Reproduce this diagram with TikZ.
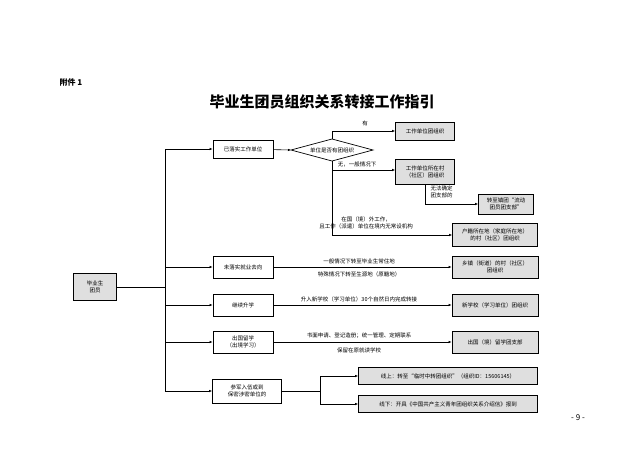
\documentclass[tikz,border=0pt]{standalone}
\usepackage{fontspec}
\setmainfont{Noto Sans CJK SC}
\usetikzlibrary{shapes.geometric,arrows.meta}
\begin{document}
\begin{tikzpicture}[x=1pt,y=-1pt,
  wbox/.style={draw,line width=0.7pt,fill=white,align=center,font=\fontsize{5.5}{7}\selectfont,inner sep=1pt},
  gbox/.style={draw,line width=0.7pt,fill=gray!25,align=center,font=\fontsize{5.5}{7}\selectfont,inner sep=1pt},
  lbl/.style={font=\fontsize{5.5}{7}\selectfont,align=center,inner sep=0.5pt},
  arr/.style={-{Latex[length=3pt,width=2.5pt]},line width=0.6pt},
  ln/.style={line width=0.6pt}]
\useasboundingbox (0,0) rectangle (640,453);
\fill[white] (0,0) rectangle (640,453);
\node[font=\fontsize{8}{9}\selectfont\bfseries,anchor=west] (att) at (56,82) {附件 1};
\node[font=\fontsize{15}{17}\selectfont\bfseries] (title) at (322,102) {毕业生团员组织关系转接工作指引};
\node[gbox,minimum width=43pt,minimum height=27pt] (root) at (95,287) {毕业生\\团员};
\coordinate (tt) at (165,149);
\coordinate (tb) at (165,391);
\coordinate (tm) at (165,287);
\draw[ln] (root) -- (tm);
\draw[ln] (tt) -- (tb);
% work
\node[wbox,minimum width=60pt,minimum height=18pt] (w) at (243,149) {已落实工作单位};
\coordinate (dW) at (291,150);
\coordinate (dN) at (332,139);
\coordinate (dE) at (373,150);
\coordinate (dS) at (332,161);
\draw[line width=0.7pt] (dW) -- (dN) -- (dE) -- (dS) -- cycle;
\node[lbl] (d) at (332,150) {单位是否有团组织};
\draw[arr] (tt) -- (w);
\draw[arr] (w) -- (dW);
\node[gbox,minimum width=59pt,minimum height=18pt] (g1) at (425,131) {工作单位团组织};
\node[gbox,minimum width=59pt,minimum height=25pt] (g2) at (425,172) {工作单位所在村\\（社区）团组织};
\node[gbox,minimum width=55pt,minimum height=20pt] (g3) at (506,204) {转至镇团“流动\\团员团支部”};
\node[gbox,minimum width=85pt,minimum height=23pt] (g4) at (495,235) {户籍所在地（家庭所在地）\\的村（社区）团组织};
\draw[arr] (dN) |- (g1);
\node[lbl] (l1) at (365,123) {有};
\coordinate (db) at (332,235);
\draw[ln] (dS) -- (db);
\draw[arr] (332,170) -- (g2.west |- 0,170);
\node[lbl] (l2) at (357,164) {无，一般情况下};
\draw[arr] (g2.south) |- (g3);
\node[lbl,anchor=west] (l3) at (430,192) {无法确定\\团支部的};
\draw[arr] (db) -- (g4.west |- db);
\node[lbl] (l4) at (366,223) {在国（境）外工作，\\且工作（派遣）单位在境内无常设机构};
% row 2
\node[wbox,minimum width=60pt,minimum height=22pt] (u) at (243,267) {未落实就业去向};
\node[gbox,minimum width=86pt,minimum height=22pt] (u2) at (495,267) {乡镇（街道）的村（社区）\\团组织};
\draw[arr] (165,267) -- (u);
\draw[arr] (u) -- (u2);
\node[lbl] (l5) at (359,261) {一般情况下转至毕业生常住地};
\node[lbl] (l6) at (359,274) {特殊情况下转至生源地（原籍地）};
% row 3
\node[wbox,minimum width=60pt,minimum height=22pt] (s) at (243,305) {继续升学};
\node[gbox,minimum width=86pt,minimum height=22pt] (s2) at (495,305) {新学校（学习单位）团组织};
\draw[arr] (165,305) -- (s);
\draw[arr] (s) -- (s2);
\node[lbl] (l7) at (359,299) {升入新学校（学习单位）30个自然日内完成转接};
% row 4
\node[wbox,minimum width=60pt,minimum height=22pt] (a) at (243,342) {出国留学\\（出境学习）};
\node[gbox,minimum width=86pt,minimum height=22pt] (a2) at (495,342) {出国（境）留学团支部};
\draw[arr] (165,342) -- (a);
\draw[arr] (a) -- (a2);
\node[lbl] (l8) at (359,336) {书面申请、登记造册；统一管理、定期联系};
\node[lbl] (l9) at (359,350) {保留在原就读学校};
% row 5
\node[wbox,minimum width=69pt,minimum height=24pt] (m) at (247,391) {参军入伍或到\\保密涉密单位的};
\node[gbox,minimum width=179pt,minimum height=17pt] (m1) at (448,376) {线上：转至“临时中转团组织”（组织ID：15606145）};
\node[gbox,minimum width=179pt,minimum height=17pt] (m2) at (448,404) {线下：开具《中国共产主义青年团组织关系介绍信》报到};
\draw[arr] (tb) -- (m);
\coordinate (ms) at (320,391);
\draw[ln] (m) -- (ms);
\draw[arr] (ms) |- (m1);
\draw[arr] (ms) |- (m2);
\node[font=\fontsize{8}{9}\selectfont] (pg) at (578,418) {- 9 -};
\end{tikzpicture}
\end{document}
